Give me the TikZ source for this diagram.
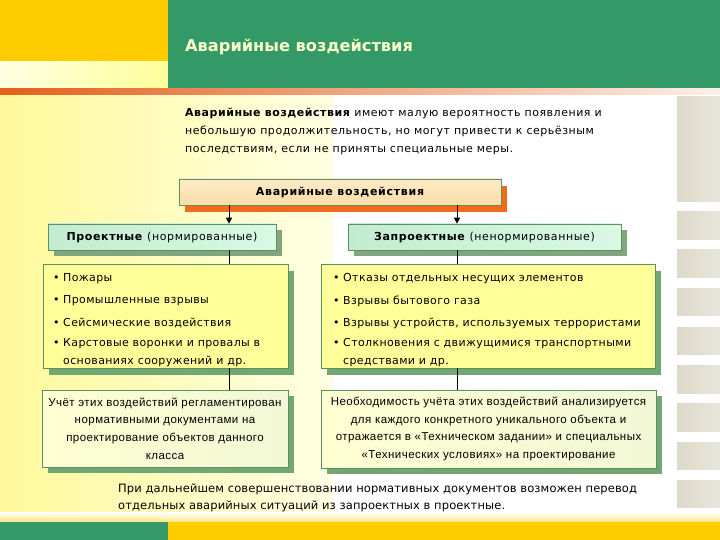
\documentclass[tikz,border=0pt]{standalone}
\usepackage{fontspec}
\setmainfont{DejaVu Sans}
\newfontfamily\arialf[LetterSpace=4]{Liberation Sans}
\usetikzlibrary{shadows,arrows.meta,calc}
\definecolor{hgreen}{HTML}{339966}
\definecolor{hyel}{HTML}{FFCC00}
\definecolor{titlec}{HTML}{FFFFCC}
\definecolor{orline}{HTML}{E4601C}
\definecolor{bgyelA}{HTML}{FFF99A}
\definecolor{bgyelB}{HTML}{FFFFE4}
\definecolor{bord}{HTML}{5E8F5E}
\definecolor{shgreen}{HTML}{72A672}
\definecolor{shgray}{HTML}{7FA67F}
\definecolor{shorange}{HTML}{F26A1B}
\definecolor{peachA}{HTML}{FDEBC8}
\definecolor{peachB}{HTML}{FADCA6}
\definecolor{mintA}{HTML}{C2ECCF}
\definecolor{mintB}{HTML}{DAF8E4}
\definecolor{listfill}{HTML}{FFFF99}
\definecolor{lowA}{HTML}{FFFFD2}
\definecolor{lowB}{HTML}{F1F8D6}
\definecolor{stripA}{HTML}{DDD8C8}
\definecolor{stripB}{HTML}{F3EAB0}
\definecolor{stripC}{HTML}{E8E6DC}
\newcommand\fsz{\fontsize{11bp}{18bp}\selectfont\addfontfeature{LetterSpace=3.4}}
\newcommand\bul{\makebox[10bp][l]{•}}
\tikzset{
  topbox/.style={draw=bord, line width=0.6bp, top color=peachA, bottom color=peachB,
    drop shadow={shadow xshift=6bp, shadow yshift=-7bp, fill=shorange, opacity=1},
    font=\fontsize{11bp}{13bp}\selectfont\bfseries\addfontfeature{LetterSpace=6.5}, inner sep=0pt},
  headbox/.style={draw=bord, line width=0.6bp, left color=mintA, right color=mintB,
    drop shadow={shadow xshift=6bp, shadow yshift=-6bp, fill=shgray, opacity=1},
    font=\fontsize{11bp}{13bp}\selectfont\addfontfeature{LetterSpace=5.5}, inner sep=0pt},
  listbox/.style={draw=bord, line width=0.6bp, fill=listfill,
    drop shadow={shadow xshift=6bp, shadow yshift=-7bp, fill=shgreen, opacity=1},
    inner sep=0pt},
  lowbox/.style={draw=bord, line width=0.6bp, left color=lowA, right color=lowB,
    drop shadow={shadow xshift=6bp, shadow yshift=-6bp, fill=shgreen, opacity=1},
    inner sep=0pt, align=center, font=\arialf\fontsize{11.5bp}{17.6bp}\selectfont},
  itm/.style={anchor=west, inner sep=0pt, font=\fsz, align=left},
  conn/.style={line width=0.7bp, black},
  arr/.style={conn, -{Triangle[length=6bp,width=6bp]}},
}
\begin{document}
\begin{tikzpicture}[x=1bp,y=-1bp]
\useasboundingbox (0,0) rectangle (720,540);
\fill[white] (0,0) rectangle (720,540);
% backgrounds
\shade[left color=bgyelA, right color=bgyelB] (0,88) rectangle (333,522);
\shade[top color=white, bottom color=hyel!50] (0,512) rectangle (720,522);
\fill[hyel] (0,0) rectangle (168,62);
\shade[left color=bgyelB, right color=listfill] (0,62) rectangle (168,89);
\fill[hgreen] (168,0) rectangle (720,88);
\shade[left color=orline, middle color=orline!55, right color=orline!10] (0,89) rectangle (720,95);
\fill[hgreen] (0,522) rectangle (168,540);
\fill[hyel] (168,522) rectangle (720,540);
\foreach \a/\b in {97/202,212/240,250/277,288/315,327/354,365/393,403/431,442/469,480/507}
  \shade[left color=stripA, middle color=stripB, right color=stripC] (677,\a) rectangle (720,\b);
% title
\node[anchor=west, inner sep=0pt, text=titlec, font=\fontsize{16.2bp}{18bp}\selectfont\bfseries] (title) at (185,47) {Аварийные воздействия};
% intro
\node[anchor=north west, inner sep=0pt, align=left, font=\fontsize{11bp}{18bp}\selectfont\addfontfeature{LetterSpace=4.8}] (intro) at (185,108)
  {\textbf{Аварийные воздействия} имеют малую вероятность появления и\\
   небольшую продолжительность, но могут привести к серьёзным\\
   последствиям, если не приняты специальные меры.};
% boxes
\node[topbox, minimum width=322bp, minimum height=26bp] (top) at (340,192) {Аварийные воздействия};
\node[headbox, minimum width=228bp, minimum height=26bp] (lh) at (162,237) {\textbf{Проектные} (нормированные)};
\node[headbox, minimum width=273bp, minimum height=26bp] (rh) at (484.5,237) {\textbf{Запроектные} (ненормированные)};
\node[listbox, minimum width=245bp, minimum height=104bp] (ll) at (165.5,316) {};
\node[listbox, minimum width=334bp, minimum height=104bp] (rl) at (488,316) {};
\node[lowbox, minimum width=246bp, minimum height=77bp] (lw) at (165,428.5)
  {Учёт этих воздействий регламентирован\\нормативными документами на\\проектирование объектов данного\\класса};
\node[lowbox, minimum width=335bp, minimum height=78bp] (rw) at (488.5,429)
  {Необходимость учёта этих воздействий анализируется\\для каждого конкретного уникального объекта и\\отражается в «Техническом задании» и специальных\\«Технических условиях» на проектирование};
% list items
\node[itm] (l1) at (53,279) {\bul Пожары};
\node[itm] (l2) at (53,301) {\bul Промышленные взрывы};
\node[itm] (l3) at (53,323) {\bul Сейсмические воздействия};
\node[itm] (l4) at (53,353) {\bul Карстовые воронки и провалы в\\\hspace{10bp}основаниях сооружений и др.};
\node[itm] (r1) at (333,279) {\bul Отказы отдельных несущих элементов};
\node[itm] (r2) at (333,301) {\bul Взрывы бытового газа};
\node[itm] (r3) at (333,323) {\bul Взрывы устройств, используемых террористами};
\node[itm] (r4) at (333,353) {\bul Столкновения с движущимися транспортными\\\hspace{10bp}средствами и др.};
% bottom text
\node[anchor=north west, inner sep=0pt, align=left, font=\fontsize{11.5bp}{17bp}\selectfont\addfontfeature{LetterSpace=1}] (foot) at (118,484)
  {При дальнейшем совершенствовании нормативных документов возможен перевод\\
   отдельных аварийных ситуаций из запроектных в проектные.};
% connectors
\coordinate (cl) at (229,0);
\coordinate (cr) at (457,0);
\draw[arr] (top.south -| cl) -- (lh.north -| cl);
\draw[arr] (top.south -| cr) -- (rh.north -| cr);
\draw[conn] (lh.south -| cl) -- (ll.north -| cl);
\draw[conn] (rh.south -| cr) -- (rl.north -| cr);
\draw[conn] (ll.south -| cl) -- (lw.north -| cl);
\draw[conn] (rl.south -| cr) -- (rw.north -| cr);
\end{tikzpicture}
\end{document}
